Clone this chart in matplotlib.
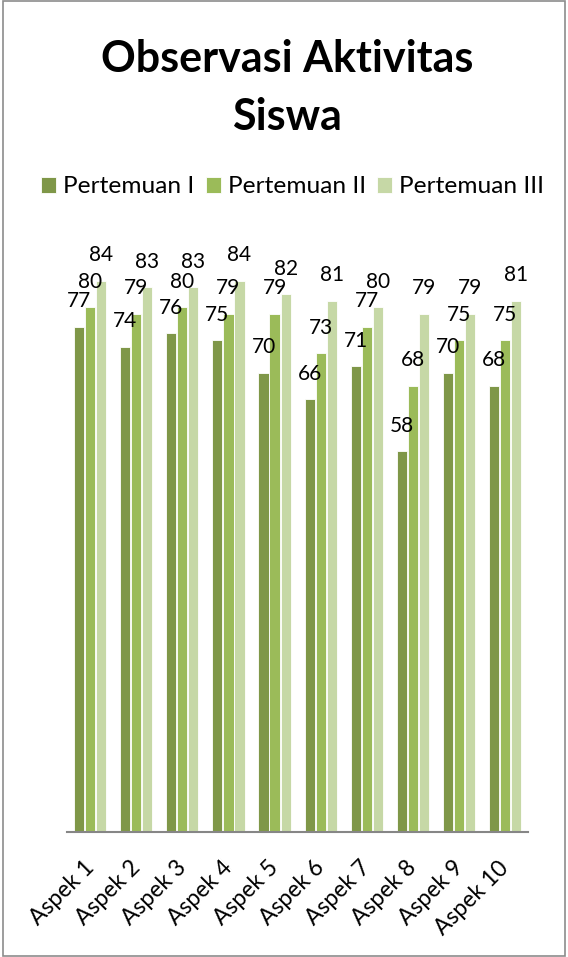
import numpy as np
import matplotlib.pyplot as plt
import matplotlib.transforms as mtransforms
from matplotlib.patches import Rectangle

plt.rcParams['font.family'] = ['Lato', 'DejaVu Sans']

categories = ['Aspek 1', 'Aspek 2', 'Aspek 3', 'Aspek 4', 'Aspek 5',
              'Aspek 6', 'Aspek 7', 'Aspek 8', 'Aspek 9', 'Aspek 10']
series_names = ['Pertemuan I', 'Pertemuan II', 'Pertemuan III']
pertemuan_1 = [77, 74, 76, 75, 70, 66, 71, 58, 70, 68]
pertemuan_2 = [80, 79, 80, 79, 79, 73, 77, 68, 75, 75]
pertemuan_3 = [84, 83, 83, 84, 82, 81, 80, 79, 79, 81]
colors = ['#7F9748', '#9BBB59', '#C6D8A6']

fig = plt.figure(figsize=(5.68, 9.57), dpi=100)
ax = fig.add_axes([0.118, 0.1306, 0.812, 0.617])

x = np.arange(len(categories))
width = 0.22
step = 0.24
for i, (vals, name) in enumerate(zip([pertemuan_1, pertemuan_2, pertemuan_3], series_names)):
    bars = ax.bar(x + (i - 1) * step, vals, width, color=colors[i],
                  edgecolor='white', linewidth=0.6, label=name)
    for b, v in zip(bars, vals):
        ax.annotate(str(v), (b.get_x() + b.get_width() / 2, v),
                    xytext=(0, 14), textcoords='offset points',
                    ha='center', va='baseline', fontsize=15)

ax.set_ylim(0, 90)
ax.set_xlim(-0.5, len(categories) - 0.5)
ax.set_yticks([])
for s in ['top', 'right', 'left']:
    ax.spines[s].set_visible(False)
ax.spines['bottom'].set_color('#868686')
ax.spines['bottom'].set_linewidth(1.5)
ax.set_xticks(x)
ax.set_xticklabels(categories, rotation=45, ha='right', rotation_mode='anchor', fontsize=16.5)
ax.tick_params(axis='x', length=0, pad=18)
shift = mtransforms.ScaledTranslation(-5 / 72, 0, fig.dpi_scale_trans)
for lbl in ax.get_xticklabels():
    lbl.set_transform(lbl.get_transform() + shift)

fig.text(0.505, 0.9248, 'Observasi Aktivitas', ha='center', va='baseline',
         fontsize=31, fontweight='bold')
fig.text(0.505, 0.8642, 'Siswa', ha='center', va='baseline',
         fontsize=31, fontweight='bold')

handles, labels = ax.get_legend_handles_labels()
fig.legend(handles, labels, loc='center', bbox_to_anchor=(0.515, 0.8046), ncol=3,
           frameon=False, fontsize=17.6, handlelength=0.62, handleheight=0.62,
           handletextpad=0.28, columnspacing=0.45, borderpad=0, borderaxespad=0)

fig.patches.append(Rectangle((0.005, 0.001), 0.99, 0.998, transform=fig.transFigure,
                             fill=False, edgecolor='#8C8C8C', linewidth=1.2))

fig.savefig('out.png', dpi=100)
